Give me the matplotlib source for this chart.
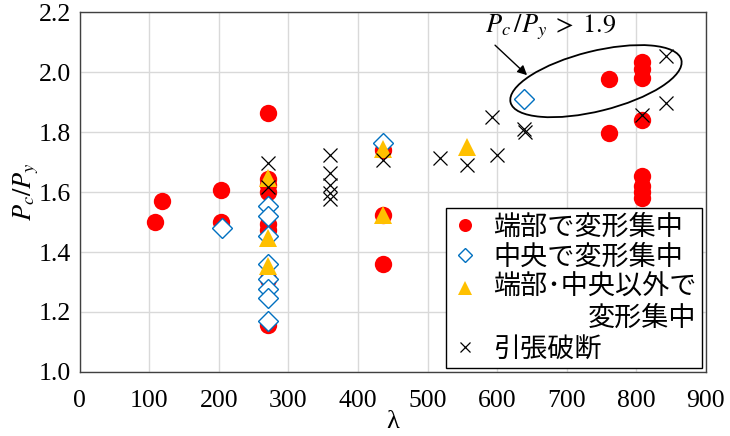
import matplotlib.pyplot as plt
from matplotlib.patches import Ellipse
from matplotlib.transforms import ScaledTranslation

plt.rcParams['font.family'] = ['Liberation Serif', 'DejaVu Serif']
plt.rcParams['mathtext.fontset'] = 'stix'

# 端部で変形集中
end_x = [108, 118, 203, 203, 271, 271, 271, 271, 271, 271, 271, 271,
         436, 436, 436, 761, 761, 808, 808, 808, 808, 808, 808, 808, 808]
end_y = [1.50, 1.57, 1.607, 1.50, 1.863, 1.645, 1.625, 1.60, 1.495, 1.475, 1.31, 1.155,
         1.74, 1.523, 1.36, 1.976, 1.796, 2.034, 2.012, 1.979, 1.84, 1.655, 1.62, 1.60, 1.58]

# 中央で変形集中
mid_x = [204, 271, 271, 271, 271, 271, 271, 271, 271, 436, 638]
mid_y = [1.479, 1.552, 1.52, 1.455, 1.36, 1.31, 1.278, 1.247, 1.17, 1.763, 1.912]

# 端部・中央以外で変形集中
other_x = [271, 271, 271, 436, 436, 557]
other_y = [1.646, 1.448, 1.352, 1.742, 1.523, 1.751]

# 引張破断
rup_x = [271, 271, 360, 360, 360, 360, 360, 436, 518, 557, 593, 600, 638, 640, 808, 843, 843]
rup_y = [1.697, 1.618, 1.722, 1.662, 1.625, 1.598, 1.578, 1.707, 1.712, 1.69, 1.85, 1.723,
         1.812, 1.80, 1.857, 2.054, 1.898]

labels = ['端部で変形集中', '中央で変形集中', '端部･中央以外で\n変形集中', '引張破断']

fig = plt.figure(figsize=(7.3, 4.36), dpi=100)
ax = fig.add_axes([0.109, 0.147, 0.858, 0.825])

ax.plot(end_x, end_y, 'o', color='#FF0000', ms=12.5, mew=0, label=labels[0], zorder=3)
ax.plot(mid_x, mid_y, 'D', mfc='white', mec='#0070C0', ms=10, mew=1.0, label=labels[1], zorder=4)
ax.plot(other_x, other_y, '^', color='#FFC000', ms=12.5, mew=0, label=labels[2], zorder=5)
ax.plot(rup_x, rup_y, 'x', color='black', ms=10, mew=0.9, label=labels[3], zorder=6)

ax.set_xlim(0, 900)
ax.set_ylim(1.0, 2.2)
ax.set_xticks(range(0, 901, 100))
ax.set_yticks([1.0, 1.2, 1.4, 1.6, 1.8, 2.0, 2.2])
ax.set_yticklabels(['1.0', '1.2', '1.4', '1.6', '1.8', '2.0', '2.2'])
ax.tick_params(length=0, labelsize=18.5)
ax.tick_params(axis='y', pad=6)
ax.tick_params(axis='x', pad=13)
ax.grid(color='#d9d9d9', linewidth=1)
ax.set_axisbelow(True)
for s in ax.spines.values():
    s.set_color('#404040')
    s.set_linewidth(1.0)

ax.set_xlabel('λ', fontsize=19, labelpad=-1)
ax.set_ylabel(r'$P_c/P_y$', fontsize=19, labelpad=-1.5)

leg = ax.legend(loc='lower right', bbox_to_anchor=(0.9934, 0.011), fancybox=False,
                edgecolor='black', framealpha=1, markerscale=0.75,
                prop={'family': ['Noto Sans CJK JP', 'DejaVu Sans'], 'size': 19.5},
                handlelength=1.0, handletextpad=0.55, labelspacing=0.12,
                borderpad=0.2, borderaxespad=0)
leg.get_frame().set_linewidth(1.0)
leg.get_texts()[2].set_multialignment('right')
# 二行ラベルの記号を一行目にそろえる
tri = leg.legend_handles[2]
tri.set_ydata([y + 11.5 for y in tri.get_ydata()])

# 1.9 を超える領域を囲む楕円と注記
ring = Ellipse((0, 0), 1.76, 0.60, angle=14, fill=False, edgecolor='black', lw=1.3,
               transform=fig.dpi_scale_trans + ScaledTranslation(742, 1.97, ax.transData),
               zorder=7)
ax.add_patch(ring)
ax.text(677, 2.148, r'$P_c\,/P_y\;>\;1.9$', ha='center', va='center', fontsize=19, zorder=8)
ax.annotate('', xy=(643, 1.99), xytext=(597, 2.09),
            arrowprops=dict(arrowstyle='-|>', color='black', lw=1.0,
                            mutation_scale=14, shrinkA=0, shrinkB=0),
            zorder=8)

fig.savefig('out.png', dpi=100)
